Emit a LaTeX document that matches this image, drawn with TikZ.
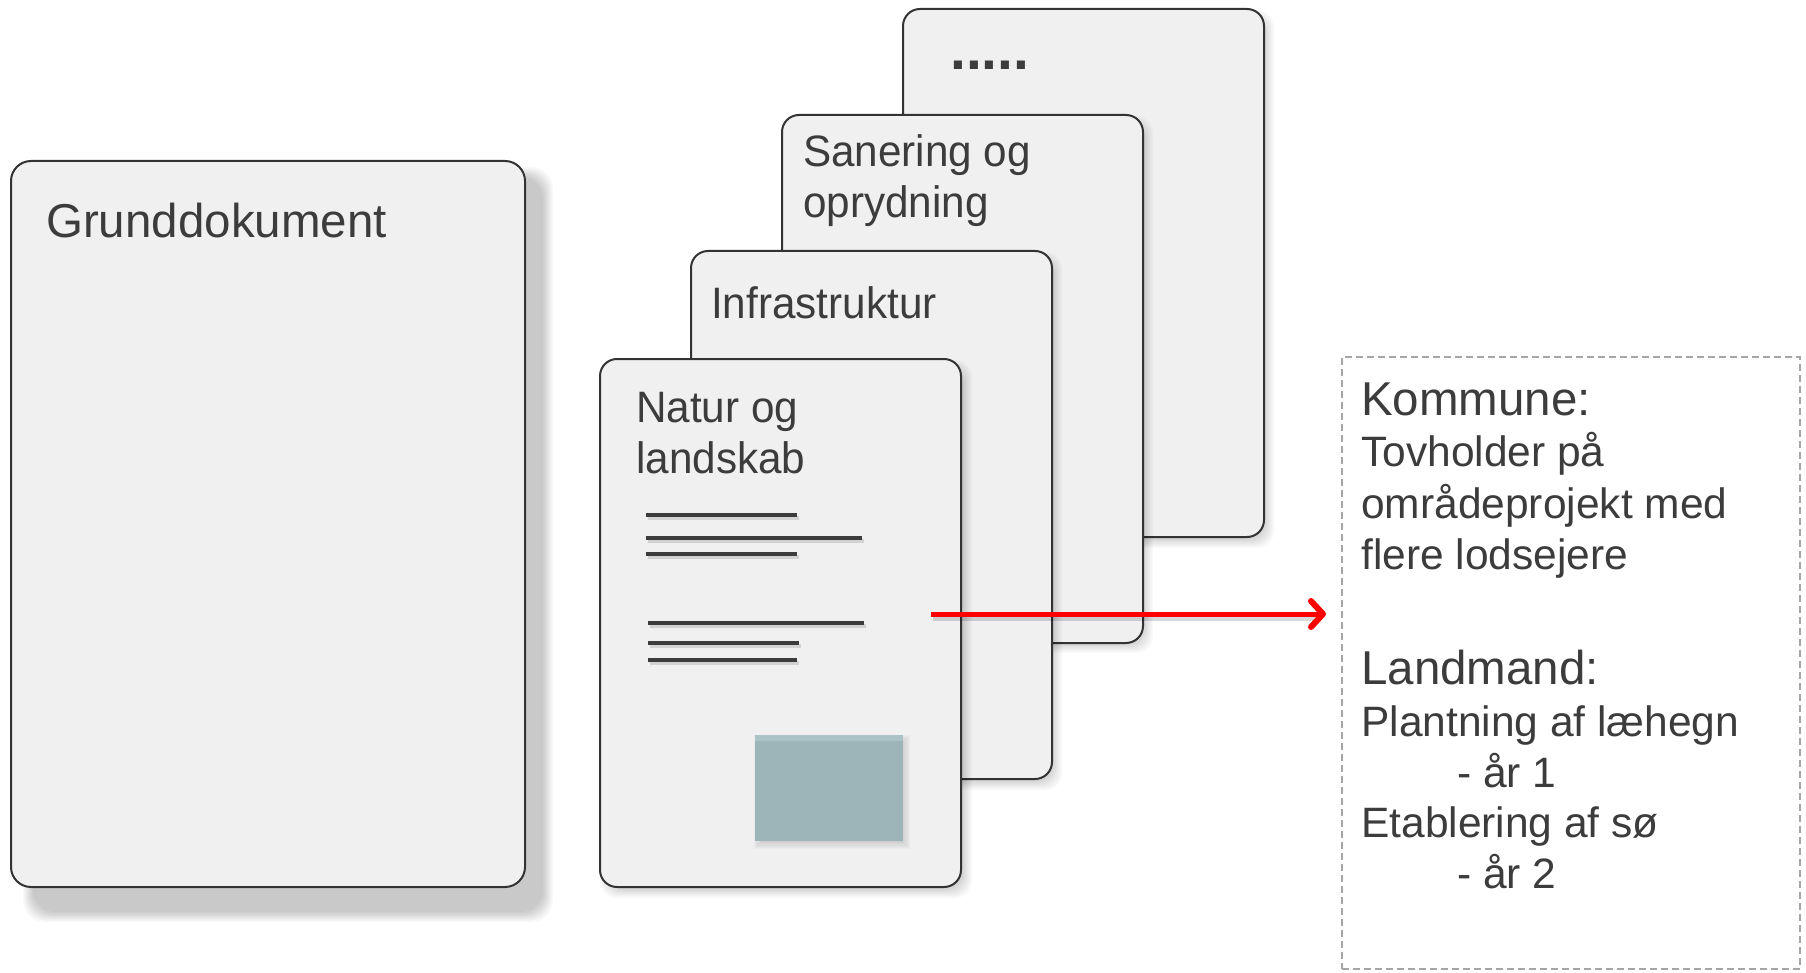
\documentclass[tikz,border=0pt]{standalone}
\usepackage{fontspec}
\setmainfont{Liberation Sans}
\newfontfamily\cardfont[FakeStretch=0.96]{Liberation Sans}
\usetikzlibrary{arrows.meta}
\definecolor{cardfill}{HTML}{F0F0F0}
\definecolor{cardline}{HTML}{333333}
\definecolor{txt}{HTML}{3C3C3C}
\definecolor{picblue}{HTML}{9DB4B9}
\definecolor{picbluetop}{HTML}{ABC2C6}
\definecolor{dashgrey}{HTML}{A6A6A6}
\newcommand\softshadow[7]{%
  \foreach \k in {0,...,7}{%
    \pgfmathsetmacro\shk{-#5+2*#5*\k/7}%
    \fill[black, fill opacity=#6, rounded corners=#7] ({#1-\shk},{#2-\shk}) rectangle ({#3+\shk},{#4+\shk});
  }%
}
\tikzset{
  card/.style={draw=cardline, fill=cardfill, line width=2pt, rounded corners=17pt,
    anchor=north west, inner sep=0pt, outer sep=0pt, minimum width=361pt, minimum height=528pt},
  bigcard/.style={card, rounded corners=20pt, minimum width=514pt, minimum height=726pt},
  cardtitle/.style={anchor=base west, inner sep=0pt, text=txt, font=\cardfont\fontsize{44}{52}\selectfont},
  bigtitle/.style={anchor=base west, inner sep=0pt, text=txt, font=\fontsize{47.5}{56}\selectfont},
  dotstitle/.style={anchor=base west, inner sep=0pt, text=txt, font=\bfseries\fontsize{57}{60}\selectfont},
  headtext/.style={anchor=base west, inner sep=0pt, text=txt, font=\fontsize{47.5}{56}\selectfont},
  bodytext/.style={anchor=base west, inner sep=0pt, text=txt, font=\fontsize{42.5}{51}\selectfont},
  txtline/.style={draw=txt, line width=3.5pt},
  txtlineshadow/.style={draw=black, draw opacity=0.12, line width=4pt},
  kbox/.style={draw=dashgrey, line width=1.5pt, dash pattern=on 7pt off 4pt, anchor=north west,
    inner sep=0pt, outer sep=0pt, minimum width=458pt, minimum height=612pt},
  picbox/.style={fill=picblue, anchor=north west, inner sep=0pt, outer sep=0pt, minimum width=148pt, minimum height=106pt},
  redarrow/.style={draw=red, line width=5pt, -{Straight Barb[length=12pt, width=26pt, line width=6pt, line cap=round, line join=round]}},
}
\begin{document}
\begin{tikzpicture}[x=1pt, y=-1pt]
\useasboundingbox (0,0) rectangle (1806,973);
\fill[white] (0,0) rectangle (1806,973);

% Grunddokument
\softshadow{28}{172}{548}{917}{5}{0.028}{22pt}
\node[bigcard] (g) at (11,161) {};
\node[bigtitle] (gt) at (46,238) {Grunddokument};

% card 4
\softshadow{908}{15}{1269}{543}{5}{0.022}{17pt}
\node[card] (c4) at (903,9) {};
\node[dotstitle] (c4t) at (950,70) {.....};

% card 3
\softshadow{787}{121}{1148}{648}{5}{0.022}{17pt}
\node[card] (c3) at (782,115) {};
\node[cardtitle] (c3t) at (803,167) {Sanering og};
\node[cardtitle] (c3u) at (803,218) {oprydning};

% card 2
\softshadow{696}{257}{1057}{785}{5}{0.022}{17pt}
\node[card] (c2) at (691,251) {};
\node[cardtitle] (c2t) at (711,319) {Infrastruktur};

% card 1
\softshadow{605}{365}{967}{893}{5}{0.022}{17pt}
\node[card] (c1) at (600,359) {};
\node[cardtitle] (c1t) at (636,422) {Natur og};
\node[cardtitle] (c1u) at (636,473) {landskab};

% text lines in card 1
\foreach \xa/\xb/\yy in {646/797/515, 646/862/538, 646/797/554, 648/864/623, 648/799/643, 648/797/660}{
  \draw[txtlineshadow] (\xa+2,\yy+3) -- (\xb+2,\yy+3);
  \draw[txtline] (\xa,\yy) -- (\xb,\yy);
}

% picture placeholder
\softshadow{758}{739}{906}{845}{4}{0.02}{0pt}
\node[picbox] (pic) at (755,735) {};
\fill[picbluetop] (755,735) rectangle (903,741);

% right text box
\node[kbox] (kbox) at (1342,357) {};
\node[headtext] (k1) at (1361,415) {Kommune:};
\node[bodytext] (k2) at (1361,466) {Tovholder på};
\node[bodytext] (k3) at (1361,518) {områdeprojekt med};
\node[bodytext] (k4) at (1361,569) {flere lodsejere};
\node[headtext] (k5) at (1361,684) {Landmand:};
\node[bodytext] (k6) at (1361,736) {Plantning af læhegn};
\node[bodytext] (k7) at (1457,787) {- år 1};
\node[bodytext] (k8) at (1361,837) {Etablering af sø};
\node[bodytext] (k9) at (1457,888) {- år 2};

% arrow
\coordinate (astart) at (931,614);
\coordinate (ashadow) at (933,618);
\draw[draw=black, draw opacity=0.15, line width=5pt] (ashadow) -- (1318,618);
\draw[redarrow, shorten >=16pt] (astart) -- (astart -| kbox.west);
\end{tikzpicture}
\end{document}
